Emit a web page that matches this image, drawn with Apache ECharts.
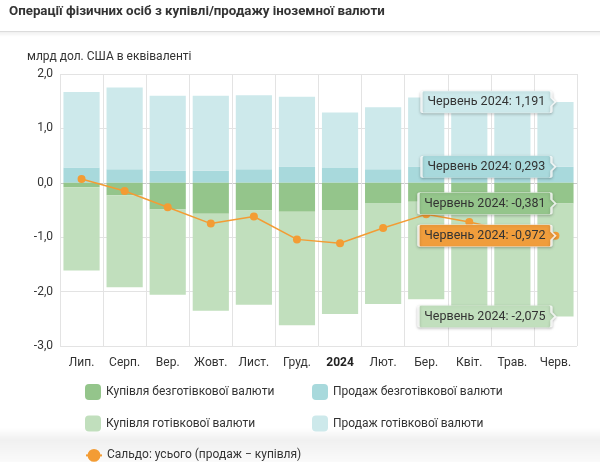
<!DOCTYPE html>
<html>
<head>
<meta charset="utf-8">
<script src="https://cdn.jsdelivr.net/npm/echarts@6/dist/echarts.min.js"></script>
<style>
    html, body {margin: 0; padding: 0; background: #fff;}
    #chart {width: 600px; height: 462px;}
</style>
</head>
<body>
<div id="chart"></div>
<script>
var months = ['Лип.', 'Серп.', 'Вер.', 'Жовт.', 'Лист.', 'Груд.', '2024', 'Лют.', 'Бер.', 'Квіт.', 'Трав.', 'Черв.'];
var cashlessSale = [0.28, 0.25, 0.22, 0.22, 0.25, 0.30, 0.27, 0.25, 0.30, 0.28, 0.27, 0.293];
var cashSale = [1.39, 1.50, 1.38, 1.38, 1.36, 1.28, 1.02, 1.14, 1.27, 1.30, 1.23, 1.191];
var cashlessBuy = [-0.08, -0.23, -0.49, -0.57, -0.51, -0.53, -0.50, -0.37, -0.35, -0.38, -0.39, -0.381];
var cashBuy = [-1.53, -1.69, -1.57, -1.78, -1.73, -2.09, -1.91, -1.86, -1.79, -1.92, -2.01, -2.075];
var saldo = [0.07, -0.15, -0.45, -0.75, -0.62, -1.04, -1.11, -0.83, -0.58, -0.72, -0.90, -0.972];
var yTicks = [-3, -2, -1, 0, 1, 2];
var lastLabel = 'Червень 2024';

var names = {
    cashlessBuy: 'Купівля безготівкової валюти',
    cashlessSale: 'Продаж безготівкової валюти',
    cashBuy: 'Купівля готівкової валюти',
    cashSale: 'Продаж готівкової валюти',
    saldo: 'Сальдо: усього (продаж − купівля)'
};
var colors = {
    cashlessBuy: '#94c58b',
    cashlessSale: '#a8d9dc',
    cashBuy: '#c1dfbd',
    cashSale: '#cde9eb',
    saldo: '#f39c34'
};

function fmt(v, digits) {
    return v.toFixed(digits).replace('.', ',');
}

// підказка для останнього місяця
function lastMark(arr, stackBase, color) {
    var i = arr.length - 1;
    var v = arr[i];
    var w = v < 0 ? 137 : 134;
    var pos = stackBase ? stackBase[i] + v : v;
    return {
        symbol: 'path://M2,0 H' + (w - 6) + ' Q' + (w - 4) + ',0 ' + (w - 4) + ',2 V7 L' + w + ',11 L' + (w - 4) + ',15 V20 Q' + (w - 4) + ',22 ' + (w - 6) + ',22 H2 Q0,22 0,20 V2 Q0,0 2,0 Z',
        symbolSize: [w, 22],
        symbolOffset: ['-50%', 0],
        silent: true,
        itemStyle: {
            color: color,
            borderColor: 'rgba(255,255,255,0.8)',
            borderWidth: 1,
            shadowBlur: 3,
            shadowOffsetY: 1,
            shadowColor: 'rgba(0,0,0,0.25)'
        },
        label: {
            show: true,
            position: 'inside',
            offset: [-2, 0],
            color: '#333',
            fontSize: 12.5,
            fontFamily: 'Roboto',
            formatter: lastLabel + ': ' + fmt(v, 3)
        },
        data: [{coord: [i, pos]}]
    };
}

var myChart = echarts.init(document.getElementById('chart'));

var legendText = {fontSize: 12, color: '#333'};

var option = {
    animation: false,
    textStyle: {fontFamily: 'Roboto'},
    title: [
        {
            text: 'Операції фізичних осіб з купівлі/продажу іноземної валюти',
            left: 4,
            top: 0,
            textStyle: {fontSize: 13.3, fontWeight: 'bold', color: '#333', fontFamily: 'Roboto'}
        },
        {
            text: 'млрд дол. США в еквіваленті',
            left: 22,
            top: 46,
            textStyle: {fontSize: 12, fontWeight: 'normal', color: '#333', fontFamily: 'Roboto'}
        }
    ],
    graphic: [
        {type: 'rect', z: -10, shape: {x: 0, y: 31, width: 600, height: 1}, style: {fill: '#dcdcdc'}},
        {
            type: 'rect', z: -10, shape: {x: 0, y: 32, width: 600, height: 5},
            style: {fill: new echarts.graphic.LinearGradient(0, 0, 0, 1, [
                {offset: 0, color: 'rgba(0,0,0,0.06)'},
                {offset: 1, color: 'rgba(0,0,0,0)'}
            ])}
        },
        {
            type: 'rect', z: -10, shape: {x: 0, y: 428, width: 600, height: 34},
            style: {fill: new echarts.graphic.LinearGradient(0, 0, 0, 1, [
                {offset: 0, color: 'rgba(0,0,0,0)'},
                {offset: 0.35, color: 'rgba(0,0,0,0.06)'},
                {offset: 1, color: 'rgba(0,0,0,0.02)'}
            ])}
        }
    ],
    legend: [
        {
            orient: 'vertical',
            left: 80,
            top: 379,
            itemWidth: 16,
            itemHeight: 16,
            itemGap: 15.5,
            icon: 'roundRect',
            textStyle: legendText,
            data: [names.cashlessBuy, names.cashBuy]
        },
        {
            orient: 'vertical',
            left: 307,
            top: 379,
            itemWidth: 16,
            itemHeight: 16,
            itemGap: 15.5,
            icon: 'roundRect',
            textStyle: legendText,
            data: [names.cashlessSale, names.cashSale]
        },
        {
            left: 80,
            top: 444,
            itemWidth: 16,
            itemHeight: 16,
            textStyle: legendText,
            data: [names.saldo]
        }
    ],
    grid: {left: 60, right: 23, top: 74, bottom: 116},
    xAxis: {
        type: 'category',
        data: months,
        axisLine: {show: false},
        axisTick: {show: false},
        splitLine: {show: true, interval: 0, lineStyle: {color: '#e3e3e3'}},
        axisLabel: {
            interval: 0,
            margin: 11,
            fontSize: 12,
            color: '#333',
            formatter: function (v) {
                return v === '2024' ? '{b|' + v + '}' : v;
            },
            rich: {b: {fontWeight: 'bold', fontSize: 12, color: '#222'}}
        }
    },
    yAxis: {
        type: 'value',
        min: yTicks[0],
        max: yTicks[yTicks.length - 1],
        interval: 1,
        axisLine: {show: false},
        axisTick: {show: false},
        axisLabel: {
            fontSize: 12,
            color: '#333',
            margin: 7,
            formatter: function (v) { return fmt(v, 1); }
        },
        splitLine: {
            lineStyle: {
                color: yTicks.map(function (t) { return t === 0 ? '#c8c8c8' : '#e3e3e3'; }),
                width: 1
            }
        }
    },
    series: [
        {
            name: names.cashlessSale,
            type: 'bar',
            stack: 'all',
            barCategoryGap: '16%',
            itemStyle: {color: colors.cashlessSale},
            data: cashlessSale,
            markPoint: lastMark(cashlessSale, null, colors.cashlessSale)
        },
        {
            name: names.cashSale,
            type: 'bar',
            stack: 'all',
            itemStyle: {color: colors.cashSale},
            data: cashSale,
            markPoint: lastMark(cashSale, cashlessSale, colors.cashSale)
        },
        {
            name: names.cashlessBuy,
            type: 'bar',
            stack: 'all',
            itemStyle: {color: colors.cashlessBuy},
            data: cashlessBuy,
            markPoint: lastMark(cashlessBuy, null, colors.cashlessBuy)
        },
        {
            name: names.cashBuy,
            type: 'bar',
            stack: 'all',
            itemStyle: {color: colors.cashBuy},
            data: cashBuy,
            markPoint: lastMark(cashBuy, cashlessBuy, colors.cashBuy)
        },
        {
            name: names.saldo,
            type: 'line',
            z: 3,
            symbol: 'circle',
            symbolSize: 8,
            lineStyle: {color: colors.saldo, width: 1.5},
            itemStyle: {color: colors.saldo},
            data: saldo,
            markPoint: lastMark(saldo, null, '#f09d3c')
        }
    ]
};

myChart.setOption(option);
</script>
</body>
</html>
